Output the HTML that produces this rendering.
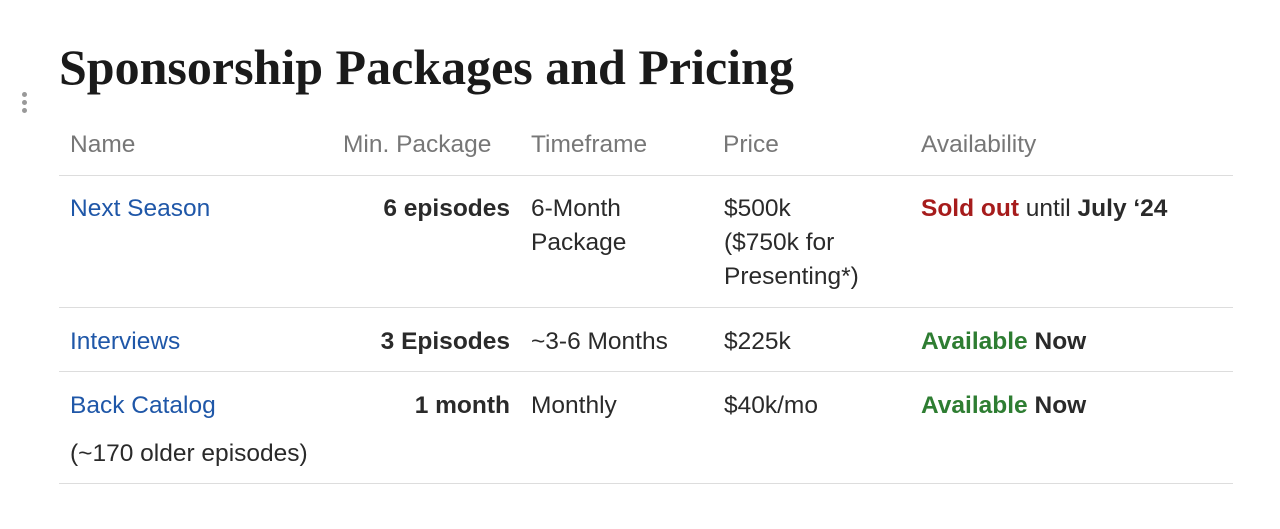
<!DOCTYPE html>
<html><head><meta charset="utf-8"><style>
body{margin:0;width:1280px;height:529px;background:#fff;position:relative;font-family:"Liberation Sans",sans-serif;overflow:hidden}
.t{position:absolute;left:59px;top:38px;font-family:"Liberation Serif",serif;font-weight:bold;font-size:50px;color:#1a1a1a;white-space:nowrap}
.a{position:absolute;font-size:24.5px;line-height:34px;color:#2a2a2a;white-space:nowrap}
.h{color:#777;top:128px}
.l{position:absolute;left:59px;width:1174px;height:1px;background:#ddd}
.b{color:#1f57a8}
.r{color:#a61c1c;font-weight:bold}
.g{color:#2e7d32;font-weight:bold}
.d{position:absolute;left:22px;width:5px;height:5px;border-radius:50%;background:#999}
</style></head><body>
<div class="d" style="top:92px"></div><div class="d" style="top:100px"></div><div class="d" style="top:108px"></div>
<div class="t">Sponsorship Packages and Pricing</div>
<div class="a h" style="left:70px">Name</div>
<div class="a h" style="left:343px">Min. Package</div>
<div class="a h" style="left:531px">Timeframe</div>
<div class="a h" style="left:723px">Price</div>
<div class="a h" style="left:921px">Availability</div>
<div class="l" style="top:175px"></div>
<div class="a b" style="left:70px;top:192px">Next Season</div>
<div class="a" style="right:770px;top:192px;font-weight:bold">6 episodes</div>
<div class="a" style="left:531px;top:192px">6-Month<br>Package</div>
<div class="a" style="left:724px;top:192px">$500k<br>($750k for<br>Presenting*)</div>
<div class="a" style="left:921px;top:192px"><span class="r">Sold out</span> until <b>July ‘24</b></div>
<div class="l" style="top:307px"></div>
<div class="a b" style="left:70px;top:325px">Interviews</div>
<div class="a" style="right:770px;top:325px;font-weight:bold">3 Episodes</div>
<div class="a" style="left:531px;top:325px">~3-6 Months</div>
<div class="a" style="left:724px;top:325px">$225k</div>
<div class="a" style="left:921px;top:325px"><span class="g">Available</span> <b>Now</b></div>
<div class="l" style="top:371px"></div>
<div class="a b" style="left:70px;top:389px">Back Catalog</div>
<div class="a" style="left:70px;top:437px">(~170 older episodes)</div>
<div class="a" style="right:770px;top:389px;font-weight:bold">1 month</div>
<div class="a" style="left:531px;top:389px">Monthly</div>
<div class="a" style="left:724px;top:389px">$40k/mo</div>
<div class="a" style="left:921px;top:389px"><span class="g">Available</span> <b>Now</b></div>
<div class="l" style="top:483px"></div>
</body></html>
